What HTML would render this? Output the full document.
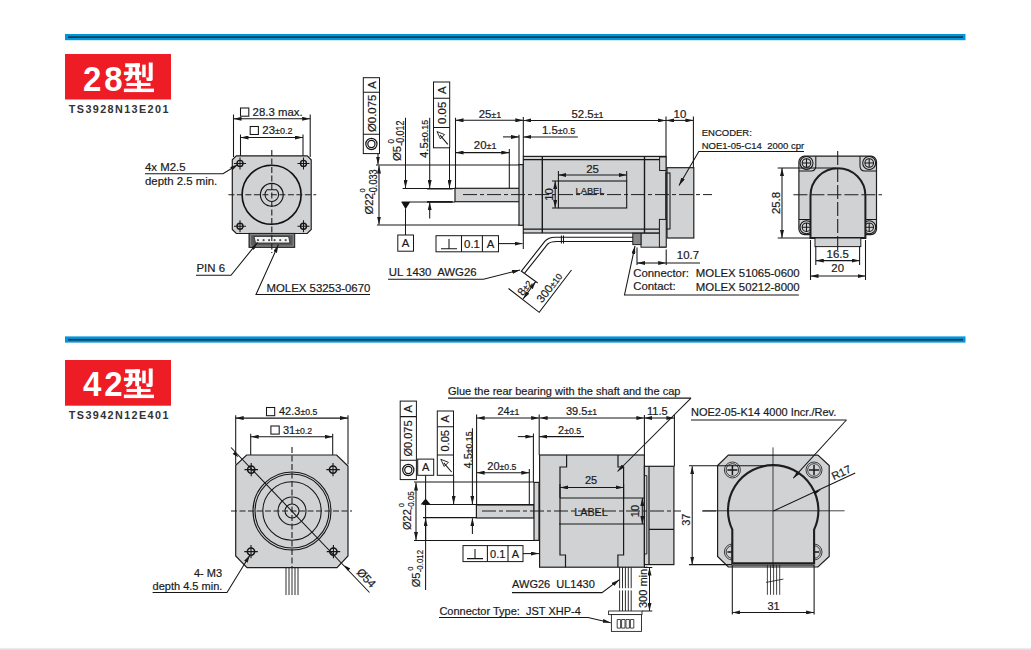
<!DOCTYPE html>
<html><head><meta charset="utf-8">
<style>
html,body{margin:0;padding:0;background:#fff;width:1031px;height:650px;overflow:hidden}
svg{display:block;position:absolute;left:0;top:0}
text{font-family:"Liberation Sans",sans-serif;fill:#1a1a1a;font-size:11.4px;stroke:#1a1a1a;stroke-width:0.2}
.bt text{font-size:11px}
.s{font-size:9px}
.bt .s{font-size:8.7px}
.b{font-weight:bold}
.ln{stroke:#161616;stroke-width:1.05;fill:none}
.tk{stroke:#1a1a1a;stroke-width:1.4;fill:none}
.gf{fill:#d1d2d4;stroke:#1e1e1e;stroke-width:1.2}
.cl{stroke:#1e1e1e;stroke-width:1;fill:none;stroke-dasharray:14 3 4 3}
.cd{stroke:#1e1e1e;stroke-width:1.1;fill:none;stroke-dasharray:6 2.5}
.ar{marker-end:url(#ae)}
.as{marker-start:url(#as)}
.a2{marker-start:url(#as);marker-end:url(#ae)}
</style></head>
<body>
<svg width="1031" height="650" viewBox="0 0 1031 650">
<defs>
<marker id="ae" viewBox="0 0 8 4" refX="8" refY="2" markerWidth="8" markerHeight="4" markerUnits="userSpaceOnUse" orient="auto"><path d="M0,0 L8,2 L0,4 Z" fill="#1a1a1a"/></marker>
<marker id="as" viewBox="0 0 8 4" refX="0" refY="2" markerWidth="8" markerHeight="4" markerUnits="userSpaceOnUse" orient="auto"><path d="M8,0 L0,2 L8,4 Z" fill="#1a1a1a"/></marker>
<g id="xing">
<rect x="575" y="95" width="170" height="45"/>
<rect x="560" y="190" width="200" height="40"/>
<path d="M615,140 L660,140 L660,235 Q655,282 598,305 L568,278 Q612,258 615,222 Z"/>
<rect x="690" y="95" width="45" height="195"/>
<rect x="770" y="110" width="40" height="145"/>
<path d="M845,85 L890,85 L890,280 Q890,297 870,297 L822,297 L815,258 L845,258 Z"/>
<rect x="590" y="320" width="275" height="35"/>
<rect x="710" y="290" width="45" height="110"/>
<rect x="560" y="385" width="345" height="40"/>
</g>
</defs>
<linearGradient id="bg1" x1="0" y1="0" x2="0" y2="1"><stop offset="0" stop-color="#fafafb"/><stop offset="0.5" stop-color="#e6e8ed"/><stop offset="1" stop-color="#d6dae3"/></linearGradient>
<rect x="0" y="647.5" width="1031" height="2.5" fill="url(#bg1)"/>

<!-- ============ TOP SECTION ============ -->
<rect x="65" y="34" width="900.5" height="6.2" fill="#0096de"/>
<rect x="68" y="36.3" width="895" height="1.7" fill="#193a4b"/>
<rect x="65" y="54" width="106" height="45.5" fill="#ed1c25"/>
<text transform="translate(83,90.8) scale(0.93,1)" class="b" style="font-size:35.5px;fill:#fff;stroke:none;letter-spacing:3.2px">28</text>
<g fill="#fff" transform="translate(75,55) scale(0.08729)"><use href="#xing"/></g>
<text x="68.8" y="112.7" class="b" style="font-size:10.8px;fill:#333;stroke:none;letter-spacing:1.4px">TS3928N13E201</text>


<!-- front view 28 -->
<g>
<path class="ln" d="M233.5,114.5 V157 M310.2,114.5 V157 M240.5,134.5 V163 M303,134.5 V163"/>
<line class="ln a2" x1="233.5" y1="118.8" x2="310.2" y2="118.8"/>
<line class="ln a2" x1="240.5" y1="137.5" x2="303" y2="137.5"/>
<rect class="ln" x="240.5" y="108" width="8.3" height="8.2"/>
<text x="252.6" y="116.2">28.3 max.</text>
<rect class="ln" x="250.2" y="126.5" width="8.2" height="8"/>
<text x="262.3" y="134.3">23<tspan class="s">±0.2</tspan></text>
<path class="gf" d="M236.3,155.8 H307.2 L311.2,159.8 V229.5 L307.2,233.5 H236.3 L232.3,229.5 V159.8 Z"/>
<circle cx="271.6" cy="194.8" r="29.5" fill="none" stroke="#111" stroke-width="1.6"/>
<circle cx="271.8" cy="194.8" r="11.4" class="ln" style="stroke-width:1.2"/>
<path class="ln" d="M267.2,189.7 H276.4 A6.8,6.8 0 1 1 267.2,189.7 Z"/>
<g class="ln">
<circle cx="240" cy="163.4" r="3" style="stroke-width:1.4"/><circle cx="303.5" cy="163.4" r="3" style="stroke-width:1.4"/><circle cx="240" cy="226.3" r="3" style="stroke-width:1.4"/><circle cx="303.5" cy="226.3" r="3" style="stroke-width:1.4"/>
<path d="M234,163.4 H246 M240,157.4 V169.4 M297.5,163.4 H309.5 M303.5,157.4 V169.4 M234,226.3 H246 M240,220.3 V232.3 M297.5,226.3 H309.5 M303.5,220.3 V232.3"/>
</g>
<line class="cd" x1="228.4" y1="194.8" x2="316.2" y2="194.8"/>
<rect x="249" y="233.4" width="45.7" height="14" fill="#5a5a5a" stroke="#222" stroke-width="1"/>
<rect x="250.6" y="234.6" width="42.6" height="11.4" fill="none" stroke="#8a8a8a" stroke-width="1"/>
<path d="M254,236.4 H288.6 L290,243 H255.5 Z" fill="#f4f4f4" stroke="#222" stroke-width="0.8"/>
<g fill="#555"><circle cx="258" cy="240.2" r="1.1"/><circle cx="263.6" cy="240.2" r="1.1"/><circle cx="269.1" cy="240.2" r="1.1"/><circle cx="274.6" cy="240.2" r="1.1"/><circle cx="280.2" cy="240.2" r="1.1"/><circle cx="285.7" cy="240.2" r="1.1"/></g>
<line class="cd" x1="271.8" y1="150" x2="271.8" y2="253"/>
<text x="145" y="171">4x M2.5</text>
<text x="145" y="184.6">depth 2.5 min.</text>
<path class="ln ar" d="M145,173.8 H223 L238,164.5"/>
<text x="196.5" y="272.3">PIN 6</text>
<path class="ln ar" d="M196,275.3 H231 L257.5,242.5"/>
<text x="266.5" y="292">MOLEX 53253-0670</text>
<path class="ln ar" d="M370,294.5 H256 L278.4,244.8"/>
</g>


<!-- side view 28 -->
<g>
<!-- feature control frames -->
<rect class="ln" x="363.3" y="77.7" width="16.2" height="75.9" style="stroke-width:1"/>
<path class="ln" d="M363.3,92.3 H379.5 M363.3,134.3 H379.5"/>
<text transform="translate(375.5,85) rotate(-90)" text-anchor="middle">A</text>
<text transform="translate(375.5,113.3) rotate(-90)" text-anchor="middle">Ø0.075</text>
<circle cx="371.4" cy="144" r="5.6" class="ln" style="stroke-width:1.2"/><circle cx="371.4" cy="144" r="3.6" class="ln" style="stroke-width:1.2"/>
<line class="ln ar" x1="378" y1="153.6" x2="378" y2="164.5"/>
<rect class="ln" x="433.5" y="82" width="16.2" height="65.8" style="stroke-width:1"/>
<path class="ln" d="M433.5,98.3 H449.7 M433.5,127.4 H449.7"/>
<text transform="translate(445.6,90.2) rotate(-90)" text-anchor="middle">A</text>
<text transform="translate(445.6,112.8) rotate(-90)" text-anchor="middle">0.05</text>
<path class="ln" d="M447.8,144.3 L440,135.2"/><path class="ln" style="stroke-width:0.9" d="M437,131.6 L444.6,134.6 L440.4,138.8 Z"/>
<line class="ln ar" x1="449.5" y1="147.8" x2="449.5" y2="188"/>
<!-- ext & dims -->
<path class="ln" d="M376,165 H519 M377,225 H519 M402.6,188.45 H455 M401.6,201.9 H455"/>
<path class="tk" d="M427,188.7 H452.6 M427,201.9 H452.6" style="stroke-width:1.6"/>
<line class="ln a2" x1="379" y1="165.5" x2="379" y2="224.5"/>
<text transform="translate(372.6,214.6) rotate(-90)">Ø22</text>
<text transform="translate(365.2,192.4) rotate(-90)" style="font-size:7.5px">0</text>
<text transform="translate(377.4,195.3) rotate(-90) scale(0.9,1)" style="font-size:10.2px">-0.033</text>
<line class="ln ar" x1="405.5" y1="117.7" x2="405.5" y2="188"/>
<path d="M401.4,201.9 H410.2 L405.6,209.2 Z" fill="#111"/>
<line class="ln" x1="405.5" y1="209" x2="405.5" y2="235"/>
<rect class="ln" x="397.8" y="235" width="15.7" height="16.2" style="stroke-width:1"/>
<text x="405.6" y="247.3" text-anchor="middle">A</text>
<text transform="translate(400.6,161) rotate(-90)">Ø5</text>
<text transform="translate(393.6,143.4) rotate(-90)" style="font-size:8.2px">0</text>
<text transform="translate(403.6,145.8) rotate(-90) scale(0.86,1)" style="font-size:10.4px">-0.012</text>
<line class="ln ar" x1="429.7" y1="117.7" x2="429.7" y2="188"/>
<line class="ln ar" x1="429.7" y1="218.5" x2="429.7" y2="202.2"/>
<text transform="translate(427.7,158) rotate(-90)">4.5<tspan class="s">±0.15</tspan></text>
<path class="ln" d="M455.5,117.7 V188.5 M523.3,117 V156.4 M509.3,149 V188.5 M519,134.8 V165 M666,116.5 V157 M693.4,116.5 V168"/>
<line class="ln a2" x1="455.5" y1="120.3" x2="523.3" y2="120.3"/>
<text x="478.7" y="117.7">25<tspan class="s">±1</tspan></text>
<line class="ln a2" x1="455.5" y1="152.6" x2="509.3" y2="152.6"/>
<text x="473.8" y="149.3">20<tspan class="s">±1</tspan></text>
<line class="ln ar" x1="503" y1="136.9" x2="519" y2="136.9"/>
<line class="ln as" x1="523.3" y1="136.9" x2="577.8" y2="136.9"/>
<text x="541.9" y="133.8">1.5<tspan class="s">±0.5</tspan></text>
<line class="ln a2" x1="523.3" y1="120.4" x2="666" y2="120.4"/>
<text x="571.5" y="117.6">52.5<tspan class="s">±1</tspan></text>
<line class="ln a2" x1="666" y1="120.4" x2="693.4" y2="120.4"/>
<text x="673.6" y="117.6">10</text>
<!-- shaft / flange / body -->
<rect class="gf" x="455" y="188.3" width="65" height="13.4"/>
<rect class="gf" x="519" y="164.6" width="4.3" height="60.7"/>
<rect class="gf" x="523.3" y="156.4" width="142.7" height="76.6"/>
<path class="ln" d="M523.3,159.6 H666 M523.3,229.1 H666"/>
<path class="tk" d="M542.3,156.4 V233 M644.5,156.4 V233"/>
<rect class="ln" x="558.4" y="181" width="68.3" height="27" style="stroke-width:1.1"/>
<path class="ln" d="M558.4,171 V181 M626.7,171 V181 M552,181 H558.4 M552,208 H558.4"/>
<line class="ln a2" x1="558.4" y1="175" x2="626.7" y2="175"/>
<text x="592.5" y="172.5" text-anchor="middle">25</text>
<line class="ln a2" x1="555.2" y1="181" x2="555.2" y2="208"/>
<text transform="translate(553,194.5) rotate(-90)" text-anchor="middle">10</text>
<text x="590" y="194.3" text-anchor="middle" style="font-size:9.3px">LABEL</text>
<rect class="gf" x="659.6" y="157" width="6.4" height="13.5" style="stroke-width:1"/>
<rect class="gf" x="659.6" y="219.5" width="6.4" height="13.8" style="stroke-width:1"/>
<rect class="gf" x="667" y="167.7" width="26.8" height="70.3"/>
<rect class="ln" x="666" y="173" width="4" height="56"/>
<line class="cl" x1="463" y1="194.6" x2="712" y2="194.6"/>
<rect class="gf" x="641" y="233.3" width="25" height="13.9" style="stroke-width:1"/>
<rect x="632.8" y="233.3" width="8.2" height="11.3" fill="#8a8a8a" stroke="#222" stroke-width="1"/>
<rect class="gf" x="659.4" y="219.4" width="6.8" height="27.6" style="stroke-width:1"/>
<!-- cable -->
<path class="ln" d="M521.6,270.8 L545,241.2 Q548.5,237.2 555,237.2 H633" style="stroke-width:1.1"/>
<path class="ln" d="M524.6,273.2 L547.8,244 Q550.5,241.5 557,241.5 H633" style="stroke-width:1.1"/>
<path class="ln" d="M561.4,235.5 V243.5 M563.5,235.5 V243.5"/>
<path class="ln" d="M520.8,270.8 L537.7,283 M508.5,288.5 L539.2,312.3 L571.5,270"/>
<line class="ln a2" x1="523.1" y1="299" x2="535.7" y2="281.6"/>
<text transform="translate(527.8,290) rotate(-54)" text-anchor="middle">8<tspan class="s">±2</tspan></text>
<text transform="translate(552.4,290.1) rotate(-52.6)" text-anchor="middle">300<tspan class="s">±10</tspan></text>
<!-- perp frame -->
<rect class="ln" x="436" y="235.7" width="62.5" height="16.1" style="stroke-width:1"/>
<path class="ln" d="M461.5,235.7 V251.8 M482.4,235.7 V251.8 M441,248.8 H457 M449,239 V248.8"/>
<text x="472" y="247.8" text-anchor="middle">0.1</text>
<text x="490.5" y="247.8" text-anchor="middle">A</text>
<line class="ln ar" x1="498.5" y1="243.6" x2="522.5" y2="243.6"/>
<line class="ln" x1="523.3" y1="233" x2="523.3" y2="249"/>
<text x="388.8" y="276">UL 1430&#160; AWG26</text>
<path class="ln ar" d="M388,279.2 H483.5 L520,270"/>
<!-- 10.7 -->
<path class="ln" d="M637,247.5 V265 M666.2,249.5 V265 M666.2,263 H700"/>
<line class="ln a2" x1="637" y1="263" x2="666.2" y2="263"/>
<text x="676.8" y="259.2">10.7</text>
<text x="633.2" y="276.6">Connector:</text>
<text x="695.8" y="277.3">MOLEX 51065-0600</text>
<text x="633.2" y="290.2">Contact:</text>
<text x="695.8" y="290.5">MOLEX 50212-8000</text>
<path class="ln ar" d="M798.8,295 H624.5 L635,246"/>
<text x="701.7" y="135.7" style="font-size:9.5px">ENCODER:</text>
<text x="701.7" y="148.6" style="font-size:9.5px">NOE1-05-C14&#160; 2000 cpr</text>
<path class="ln ar" d="M804,151.5 H698.8 L679,185.4"/>
</g>
<!-- rear view 28 -->
<g>
<rect class="gf" x="798.9" y="156.2" width="77.6" height="78.4" rx="5.5"/>
<g class="ln">
<circle cx="806.5" cy="163" r="6.5"/><circle cx="869.2" cy="163" r="6.5"/><circle cx="806.5" cy="227.2" r="6.5"/><circle cx="869.2" cy="227.2" r="6.5"/>
<circle cx="806.5" cy="163" r="4.3"/><circle cx="869.2" cy="163" r="4.3"/><circle cx="806.5" cy="227.2" r="4.3"/><circle cx="869.2" cy="227.2" r="4.3"/>
<path d="M802.2,163 H810.8 M806.5,158.7 V167.3 M864.9,163 H873.5 M869.2,158.7 V167.3 M802.2,227.2 H810.8 M806.5,222.9 V231.5 M864.9,227.2 H873.5 M869.2,222.9 V231.5"/>
<path d="M815.8,156.2 V166 Q815.8,171 810.8,171 H799 M860,156.2 V166 Q860,171 865,171 H876.5 M799,219.5 H810.8 Q815.8,219.5 815.8,224.5 V234.6 M876.5,219.5 H865 Q860,219.5 860,224.5 V234.6"/>
</g>
<path class="gf" d="M810.5,238 V195.6 A27.45,27.45 0 0 1 865.4,195.6 V238 Z" style="stroke-width:2"/>
<rect class="gf" x="815" y="238" width="45.8" height="8.6" style="stroke-width:1"/>
<line class="cd" x1="793.4" y1="194.7" x2="882" y2="194.7" style="stroke-dasharray:14 3"/>
<line class="cd" x1="837.7" y1="151" x2="837.7" y2="253" style="stroke-dasharray:14 3"/>
<path class="ln" d="M777.7,168 H836 M777.7,238 H810 M810.5,240 V280 M865.5,240 V280 M815.8,246 V265 M859.6,246 V265"/>
<line class="ln a2" x1="782" y1="168" x2="782" y2="238"/>
<text transform="translate(779.5,203) rotate(-90)" text-anchor="middle">25.8</text>
<line class="ln a2" x1="815.8" y1="260.6" x2="859.6" y2="260.6"/>
<text x="837.7" y="257.7" text-anchor="middle">16.5</text>
<line class="ln a2" x1="810.5" y1="276" x2="865.5" y2="276"/>
<text x="837.7" y="272.3" text-anchor="middle">20</text>
</g>

<!-- BOTTOM placeholder -->
<rect x="65" y="336.4" width="900.5" height="6.2" fill="#0096de"/>
<rect x="68" y="338.9" width="895" height="1.7" fill="#193a4b"/>
<rect x="65" y="360" width="106" height="45.7" fill="#ed1c25"/>
<text transform="translate(83,396.2) scale(0.93,1)" class="b" style="font-size:35.5px;fill:#fff;stroke:none;letter-spacing:3.2px">42</text>
<g fill="#fff" transform="translate(75,361) scale(0.08729)"><use href="#xing"/></g>
<text x="68.8" y="418.8" class="b" style="font-size:10.8px;fill:#333;stroke:none;letter-spacing:1.4px">TS3942N12E401</text>


<!-- front view 42 -->
<g class="bt">
<path class="ln" d="M235.7,415.2 V464.4 M348,415.2 V464.4 M250.7,433.8 V475 M332.7,433.8 V475"/>
<line class="ln a2" x1="235.7" y1="418.1" x2="348" y2="418.1"/>
<line class="ln a2" x1="250.7" y1="436.7" x2="332.7" y2="436.7"/>
<rect class="ln" x="266.5" y="407.5" width="8.2" height="8.2"/>
<text x="279" y="415.2">42.3<tspan class="s">±0.5</tspan></text>
<rect class="ln" x="270.9" y="426" width="8.3" height="8.1"/>
<text x="283" y="433.8">31<tspan class="s">±0.2</tspan></text>
<path class="gf" d="M246.6,455 H336.6 L348,466 V556 L337,567.6 H247 L235.7,556 V465.2 Z"/>
<g class="ln" style="stroke-width:1.1">
<circle cx="292" cy="511" r="39"/><circle cx="292" cy="511" r="37"/><circle cx="292" cy="511" r="29.2"/><circle cx="292" cy="511" r="14"/><circle cx="292" cy="511" r="7"/>
<circle cx="251.2" cy="469.6" r="3.6" style="stroke-width:1.6"/><circle cx="333" cy="469.6" r="3.6" style="stroke-width:1.6"/><circle cx="251" cy="551.6" r="3.6" style="stroke-width:1.6"/><circle cx="333.4" cy="551.6" r="3.6" style="stroke-width:1.6"/>
<path d="M244.5,469.6 H258 M251.2,463 V476.3 M326.3,469.6 H339.8 M333,463 V476.3 M244.3,551.6 H257.8 M251,545 V558.3 M326.7,551.6 H340.2 M333.4,545 V558.3"/>
</g>
<line class="cd" x1="231" y1="511" x2="352" y2="511"/>
<line class="cd" x1="292" y1="447" x2="292" y2="567"/>
<path class="ln" style="stroke-width:0.9" d="M286,567.6 V595 M289,567.6 V595 M292,567.6 V595 M295,567.6 V595 M298,567.6 V595"/>
<text x="222" y="576.6" text-anchor="end">4- M3</text>
<text x="152.6" y="589.7">depth 4.5 min.</text>
<path class="ln ar" d="M152.6,592.5 H227 L250,555"/>
<path class="ln" d="M231,447.5 L369.5,592.5"/>
<path d="M238.6,457.2 l-6,-3.2 l2.4,-2.3 z M344.3,565.2 l6,3.2 l-2.4,2.3 z" fill="#111"/>
<text transform="translate(363.4,580.6) rotate(47)" text-anchor="middle" style="font-size:11.5px">Ø54</text>
</g>
<!-- side view 42 -->
<g class="bt">
<text x="448" y="395.2">Glue the rear bearing with the shaft and the cap</text>
<path class="ln" d="M448,398.1 H691"/>
<rect class="ln" x="400.2" y="401.1" width="16.2" height="78.5" style="stroke-width:1"/>
<path class="ln" d="M400.2,416.6 H416.4 M400.2,460.3 H416.4"/>
<text transform="translate(412.4,408.9) rotate(-90)" text-anchor="middle">A</text>
<text transform="translate(412.4,438.5) rotate(-90)" text-anchor="middle">Ø0.075</text>
<circle cx="408.3" cy="470" r="5.6" class="ln" style="stroke-width:1.2"/><circle cx="408.3" cy="470" r="3.6" class="ln" style="stroke-width:1.2"/>
<rect class="ln" x="417.7" y="459.1" width="16" height="16.2" style="stroke-width:1"/>
<text x="425.7" y="471.4" text-anchor="middle">A</text>
<rect class="ln" x="437.3" y="411" width="16.2" height="64.3" style="stroke-width:1"/>
<path class="ln" d="M437.3,426.7 H453.5 M437.3,455 H453.5"/>
<text transform="translate(449.4,418.9) rotate(-90)" text-anchor="middle">A</text>
<text transform="translate(449.4,440.8) rotate(-90)" text-anchor="middle">0.05</text>
<path class="ln" d="M451.6,472 L443.8,462.9"/><path class="ln" style="stroke-width:0.9" d="M440.8,459.3 L448.4,462.3 L444.2,466.5 Z"/>
<line class="ln ar" x1="453.6" y1="475.3" x2="453.6" y2="504"/>
<path class="ln" d="M425.6,475.3 V499 M425.6,504.4 V590"/>
<path d="M420.6,504.4 H430.6 L425.6,498.5 Z" fill="#111"/>
<line class="ln ar" x1="425.6" y1="540" x2="425.6" y2="518.2"/>
<text transform="translate(471.5,468.5) rotate(-90)">4.5<tspan class="s">±0.15</tspan></text>
<line class="ln ar" x1="472.4" y1="428.3" x2="472.4" y2="504"/>
<line class="ln ar" x1="472.4" y1="534" x2="472.4" y2="518.2"/>
<path class="ln" d="M414,482 H534 M414,540.4 H534 M423,504.4 H534 M423,517.6 H476"/>
<line class="ln a2" x1="416" y1="482.5" x2="416" y2="540"/>
<text transform="translate(411.4,530) rotate(-90)">Ø22</text>
<text transform="translate(404.3,507.2) rotate(-90)" style="font-size:7.5px">0</text>
<text transform="translate(414.4,509.5) rotate(-90) scale(0.84,1)" style="font-size:9.5px">-0.05</text>
<text transform="translate(420,587.3) rotate(-90)">Ø5</text>
<text transform="translate(413.2,570.8) rotate(-90)" style="font-size:7.5px">0</text>
<text transform="translate(422.8,572.3) rotate(-90) scale(0.83,1)" style="font-size:9.5px">-0.012</text>
<rect class="gf" x="476.4" y="505" width="57.6" height="13"/>
<rect class="gf" x="534" y="482.4" width="5" height="58"/>
<path class="ln" d="M476.6,414.6 V505 M539.2,414.6 V455 M529.3,469 V504.4 M533.4,433.6 V482 M644.4,415 V455 M674.4,415 V466.3"/>
<line class="ln a2" x1="476.6" y1="418" x2="539.2" y2="418"/>
<text x="497.5" y="415.4">24<tspan class="s">±1</tspan></text>
<line class="ln ar" x1="517.8" y1="436.6" x2="533.4" y2="436.6"/>
<line class="ln as" x1="539.2" y1="436.6" x2="584" y2="436.6"/>
<text x="558" y="433.6">2<tspan class="s">±0.5</tspan></text>
<line class="ln a2" x1="476.6" y1="472.7" x2="529.3" y2="472.7"/>
<text x="487.3" y="469.9">20<tspan class="s">±0.5</tspan></text>
<line class="ln a2" x1="539.6" y1="418" x2="644.4" y2="418"/>
<text x="566" y="415">39.5<tspan class="s">±1</tspan></text>
<line class="ln a2" x1="644.4" y1="418" x2="674.4" y2="418"/>
<text x="647" y="415">11.5</text>
<rect class="gf" x="539.6" y="455" width="104.8" height="112.2"/>
<path class="tk" d="M566.6,455 V467 H560 V555 H565.5 V567.2 M618,455 V467 H623.6 V555 H617.9 V567.2" style="stroke-width:1.2"/>
<path class="ln" d="M560,498 H644 M559,524 H644 M560,484 V498 M623.6,484 V498"/>
<line class="ln a2" x1="560" y1="487.4" x2="623.6" y2="487.4"/>
<text x="591" y="484" text-anchor="middle">25</text>
<text x="591" y="515.5" text-anchor="middle" style="font-size:10.8px">LABEL</text>
<line class="ln a2" x1="642.3" y1="498" x2="642.3" y2="524"/>
<text transform="translate(639,511) rotate(-90)" text-anchor="middle">10</text>
<rect class="gf" x="644.4" y="466.3" width="29.5" height="98.3"/>
<path class="ln" d="M649,529.4 H673.9 M649,466.3 V564.6" style="stroke-width:1.2"/>
<path class="ln" d="M644.4,475.6 H646.8 V482 M646.8,548 V554 H644.4 M646.8,482 V548" style="stroke-width:0.9"/>
<path class="ln ar" d="M691,398.1 L617.5,471.5"/>
<line class="cl" x1="482" y1="511" x2="681" y2="511"/>
<line class="cl" x1="702" y1="511" x2="720" y2="511"/>
<text x="691" y="416">NOE2-05-K14 4000 Incr./Rev.</text>
<line class="ln a2" x1="692.2" y1="466.3" x2="692.2" y2="564.6"/>
<text transform="translate(690,519.7) rotate(-90)" text-anchor="middle">37</text>
<path class="ln" style="stroke-width:0.9" d="M619.6,567.2 V611 M622.5,567.2 V611 M625.4,567.2 V611 M628.3,567.2 V611 M631.2,567.2 V611"/>
<path d="M617,589.3 H634" stroke="#fff" stroke-width="2.2"/>
<rect x="608.6" y="611" width="33.4" height="3.6" fill="#fff" stroke="#222" stroke-width="0.9"/>
<rect x="611.4" y="614.6" width="30.1" height="16.8" fill="#fff" stroke="#222" stroke-width="0.9"/>
<path class="ln" d="M617.2,619.5 h3.4 v8.6 h-3.4 z M621.6,619.5 h3.4 v8.6 h-3.4 z M626,619.5 h3.4 v8.6 h-3.4 z M630.4,619.5 h3.4 v8.6 h-3.4 z" style="stroke-width:0.8"/>
<path class="ln" d="M642,611 H652.3 M644,567.4 H652.3"/>
<line class="ln a2" x1="649.5" y1="567.5" x2="649.5" y2="611"/>
<text transform="translate(647,608) rotate(-90)">300 min.</text>
<text x="512.1" y="588.1">AWG26&#160; UL1430</text>
<path class="ln ar" d="M512,592.6 H602 L619.4,579.7"/>
<text x="439.4" y="614.7">Connector Type:&#160; JST XHP-4</text>
<path class="ln ar" d="M439,617.4 H588 L610.7,622.7"/>
<rect class="ln" x="463" y="545.6" width="60" height="16" style="stroke-width:1"/>
<path class="ln" d="M487.4,545.6 V561.6 M508,545.6 V561.6 M467,558.6 H483 M475,549 V558.6"/>
<text x="497.7" y="557.6" text-anchor="middle">0.1</text>
<text x="515.5" y="557.6" text-anchor="middle">A</text>
<line class="ln ar" x1="523" y1="553.6" x2="539" y2="553.6"/>
</g>
<!-- rear view 42 -->
<g class="bt">
<path class="gf" d="M728.3,455.1 H817.9 L829.2,465.6 V556.5 L817.9,567 H728.3 L717.6,556.5 V465.6 Z"/>
<g class="ln" style="stroke-width:0.8">
<circle cx="732.4" cy="470" r="8"/><circle cx="814" cy="470" r="8"/><circle cx="732.4" cy="552" r="8"/><circle cx="814" cy="552" r="8"/>
<circle cx="732.4" cy="470" r="6.3"/><circle cx="814" cy="470" r="6.3"/><circle cx="732.4" cy="552" r="6.3"/><circle cx="814" cy="552" r="6.3"/>
</g>
<path class="tk" style="stroke-width:1.5" d="M727.4,470 H737.4 M732.4,465 V475 M809,470 H819 M814,465 V475 M727.4,552 H737.4 M732.4,547 V557 M809,552 H819 M814,547 V557"/>
<path class="ln" style="stroke-width:0.9" d="M732.3,565.2 H814.1"/>
<path class="gf" d="M732.3,563.4 V529.6 A45.2,45.2 0 1 1 814.1,529.6 V563.4 Z" style="stroke-width:2.1"/>
<line class="ln" x1="703" y1="510.8" x2="844.6" y2="510.8" style="stroke-width:0.8"/>
<line class="ln" x1="773" y1="447.4" x2="773" y2="568" style="stroke-width:0.8"/>
<path class="ln" style="stroke-width:0.8" d="M767.4,565.2 V594.8 M770.5,565.2 V594.8 M773.6,565.2 V594.8 M776.6,565.2 V594.8 M779.7,565.2 V594.8 M766.1,582.4 L783.4,579.1"/>
<path class="ln" d="M732.3,565 V614.5 M814.1,565 V614.5"/>
<line class="ln a2" x1="732.3" y1="612.4" x2="814.1" y2="612.4"/>
<text x="773.5" y="609.5" text-anchor="middle">31</text>
<path class="ln" d="M773.5,511 L855.2,472.9"/>
<path d="M821,489.8 l-7.3,2.2 l1.2,2.6 z" fill="#111"/>
<text transform="translate(843,476) rotate(-25)" text-anchor="middle">R17</text>
</g>

<path class="ln" d="M846.4,420 H691"/>
<path class="ln ar" d="M846.4,420 L793.3,478.2"/>
<path class="ln" d="M689,465.8 H765.5 M689,564.6 H732"/>
</svg>
</body></html>
